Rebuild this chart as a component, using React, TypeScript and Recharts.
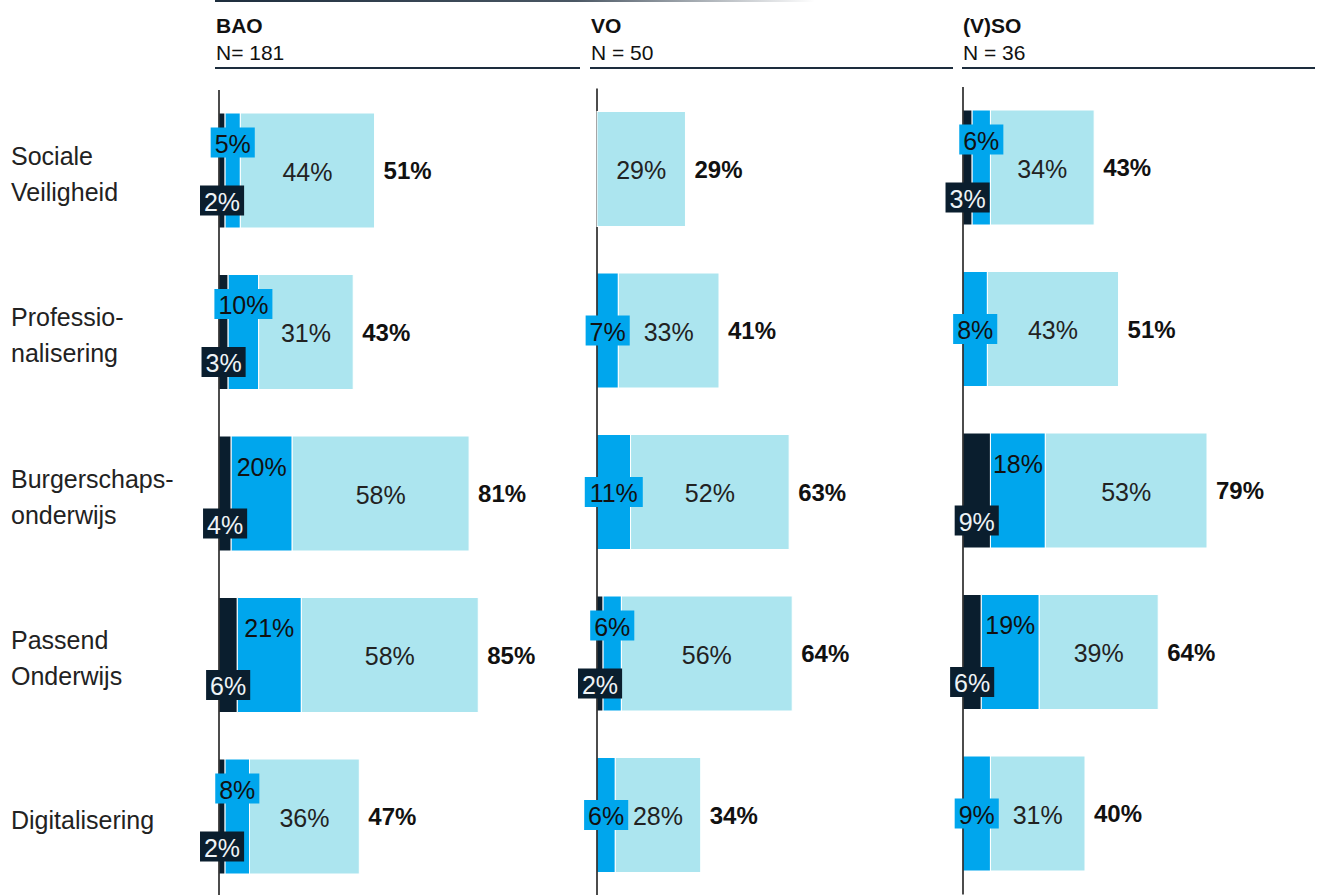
import { Bar, BarChart, XAxis, YAxis } from "recharts";

const FONT = "'Liberation Sans', Arial, sans-serif";
const DARK = "#0a1e2e";
const BLUE = "#00a6ed";
const LIGHT = "#ace5ef";
const INK = "#1d2d3d";

const CATEGORIES = [
  "Sociale\nVeiligheid",
  "Professio-\nnalisering",
  "Burgerschaps-\nonderwijs",
  "Passend\nOnderwijs",
  "Digitalisering",
];

const BAO_DARK = [2, 3, 4, 6, 2];
const BAO_BLUE = [5, 10, 20, 21, 8];
const BAO_LIGHT = [44, 31, 58, 58, 36];
const BAO_TOTAL = [51, 43, 81, 85, 47];

const VO_DARK = [0, 0, 0, 2, 0];
const VO_BLUE = [0, 7, 11, 6, 6];
const VO_LIGHT = [29, 33, 52, 56, 28];
const VO_TOTAL = [29, 41, 63, 64, 34];

const VSO_DARK = [3, 0, 9, 6, 0];
const VSO_BLUE = [6, 8, 18, 19, 9];
const VSO_LIGHT = [34, 43, 53, 39, 31];
const VSO_TOTAL = [43, 51, 79, 64, 40];

const rows = (d: number[], b: number[], l: number[], t: number[]) =>
  CATEGORIES.map((name, i) => ({ name, dark: d[i], blue: b[i], light: l[i], total: t[i] }));

const PANELS = [
  { title: "BAO", n: "N= 181", data: rows(BAO_DARK, BAO_BLUE, BAO_LIGHT, BAO_TOTAL), left: 219, top: 90, head: [215, 580] },
  { title: "VO", n: "N = 50", data: rows(VO_DARK, VO_BLUE, VO_LIGHT, VO_TOTAL), left: 597, top: 88.5, head: [590, 953] },
  { title: "(V)SO", n: "N = 36", data: rows(VSO_DARK, VSO_BLUE, VSO_LIGHT, VSO_TOTAL), left: 963, top: 87, head: [962, 1315] },
];

const PLOT_W = 305;
const PLOT_H = 807.5;
const LBL = 25;

// rough width of "12%" at 25px
const textW = (s: string) => (s.length - 1) * 13.9 + 22.2;

function Box({ cx, cy, text, fill, color }: any) {
  const w = textW(text) + 8;
  return (
    <g>
      <rect x={cx - w / 2} y={cy - 15} width={w} height={30} fill={fill} />
      <text x={cx} y={cy + 1} textAnchor="middle" dominantBaseline="central" fill={color} fontSize={LBL} fontFamily={FONT}>
        {text}
      </text>
    </g>
  );
}

// light segment draws itself plus all labels of its row, so they sit on top
function LightShape(props: any) {
  const { x, y, width, height, payload } = props;
  if (!payload) return null;
  const k = width / payload.light;
  const cy = y + height / 2;
  const blueX = x - payload.blue * k;
  const darkX = blueX - payload.dark * k;
  const blueW = payload.blue * k;
  const darkW = payload.dark * k;
  const blueY = payload.dark > 0 ? cy - 28 : cy;
  return (
    <g>
      <rect x={x} y={y} width={width} height={height} fill={LIGHT} stroke="#fff" strokeWidth={1} />
      <text x={x + width / 2} y={cy + 1} textAnchor="middle" dominantBaseline="central" fill="#222" fontSize={LBL} fontFamily={FONT}>
        {payload.light}%
      </text>
      <text x={x + width + 9} y={cy} dominantBaseline="central" fill="#111" fontSize={24} fontWeight="bold" fontFamily={FONT}>
        {payload.total}%
      </text>
      {payload.blue > 0 &&
        (payload.blue >= 15 ? (
          <text x={blueX + blueW / 2} y={blueY + 1} textAnchor="middle" dominantBaseline="central" fill="#111" fontSize={LBL} fontFamily={FONT}>
            {payload.blue}%
          </text>
        ) : (
          <Box cx={blueX + blueW / 2} cy={blueY} text={`${payload.blue}%`} fill={BLUE} color="#111" />
        ))}
      {payload.dark > 0 && (
        <Box cx={darkX + darkW / 2} cy={cy + 30} text={`${payload.dark}%`} fill={DARK} color="#eef3f6" />
      )}
    </g>
  );
}

function CategoryTick({ y, payload }: any) {
  const lines = String(payload.value).split("\n");
  const offs = lines.length === 1 ? [3] : [-15, 21];
  return (
    <g>
      {lines.map((l, i) => (
        <text key={i} x={11} y={y + offs[i]} dominantBaseline="central" fill="#222" fontSize={25} fontFamily={FONT}>
          {l}
        </text>
      ))}
    </g>
  );
}

function Headers() {
  return (
    <svg width={1322} height={895} style={{ position: "absolute", left: 0, top: 0 }}>
      <defs>
        <linearGradient id="fade" x1="0" x2="1" y1="0" y2="0">
          <stop offset="0" stopColor={INK} stopOpacity={1} />
          <stop offset="0.6" stopColor={INK} stopOpacity={0.8} />
          <stop offset="1" stopColor={INK} stopOpacity={0} />
        </linearGradient>
      </defs>
      <rect x={215} y={0} width={600} height={2} fill="url(#fade)" />
      {PANELS.map((p) => (
        <g key={p.title}>
          <text x={p.head[0] + 1} y={25} dominantBaseline="central" fontSize={21} fontWeight="bold" fill="#111" fontFamily={FONT}>
            {p.title}
          </text>
          <text x={p.head[0] + 1} y={52} dominantBaseline="central" fontSize={21} fill="#111" fontFamily={FONT}>
            {p.n}
          </text>
          <line x1={p.head[0]} x2={p.head[1]} y1={68} y2={68} stroke={INK} strokeWidth={2} />
        </g>
      ))}
    </svg>
  );
}

export default function App() {
  return (
    <div style={{ position: "fixed", left: 0, top: 0, width: 1322, height: 895, overflow: "hidden", background: "#fff", fontFamily: FONT }}>
      <Headers />
      {PANELS.map((p, pi) => (
        <div key={p.title} style={{ position: "absolute", left: 0, top: 0 }}>
          <BarChart
            width={1322}
            height={900}
            data={p.data}
            layout="vertical"
            margin={{ top: p.top, left: 0, right: 1322 - p.left - PLOT_W, bottom: 900 - p.top - PLOT_H }}
          >
            <XAxis type="number" domain={[0, 100]} hide />
            <YAxis
              type="category"
              dataKey="name"
              width={p.left}
              axisLine={{ stroke: "#111", strokeWidth: 1.5 }}
              tickLine={false}
              tick={pi === 0 ? <CategoryTick /> : false}
            />
            <Bar dataKey="dark" stackId="s" fill={DARK} stroke="#fff" strokeWidth={1} barSize={115} isAnimationActive={false} />
            <Bar dataKey="blue" stackId="s" fill={BLUE} stroke="#fff" strokeWidth={1} barSize={115} isAnimationActive={false} />
            <Bar
              dataKey="light"
              stackId="s"
              fill={LIGHT}
              barSize={115}
              shape={<LightShape />}
              isAnimationActive={false}
              {...({ zIndex: 600 } as any)}
            />
          </BarChart>
        </div>
      ))}
    </div>
  );
}
